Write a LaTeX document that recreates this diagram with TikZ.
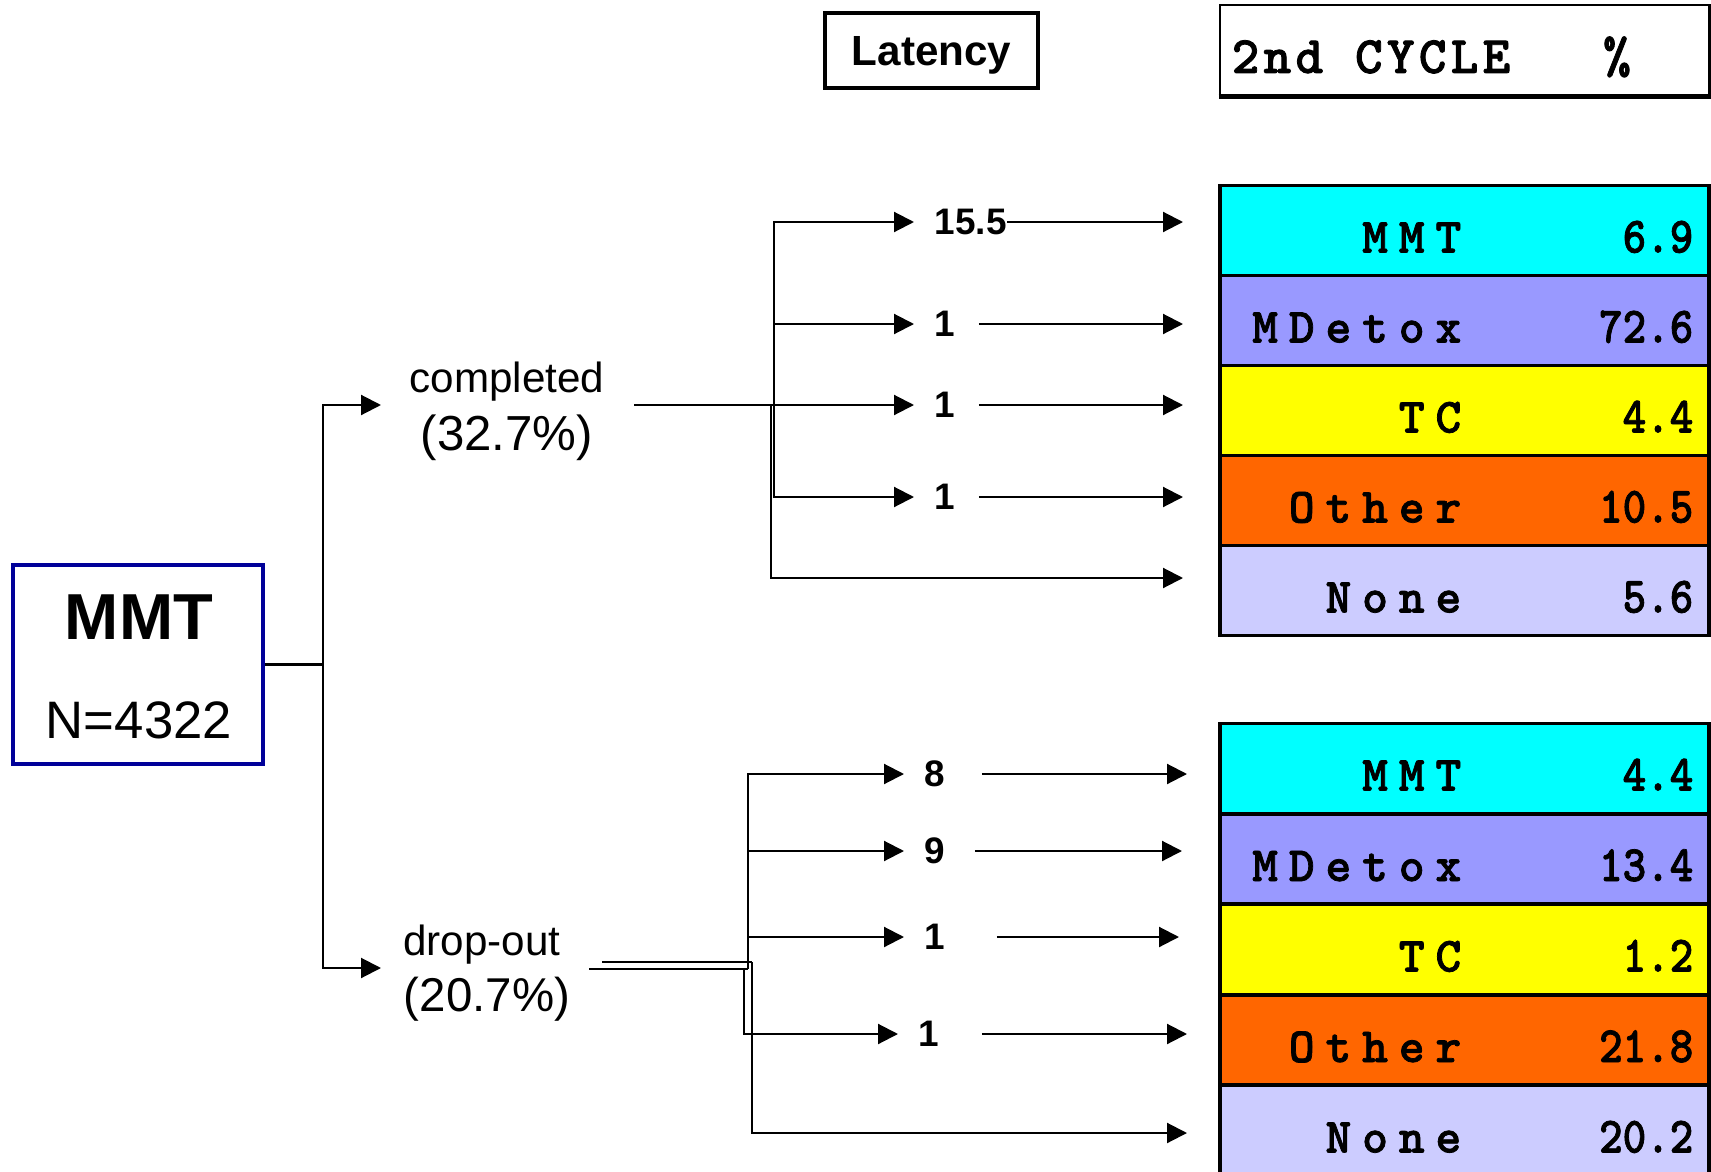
\documentclass[tikz,border=0pt]{standalone}
\usepackage{fontspec}
\setmainfont{Liberation Sans}
\newfontfamily\cellfont{lmmonolt10-bold}[Extension=.otf, LetterSpace=22, FakeBold=1.5]
\newfontfamily\numfont{lmmonolt10-bold}[Extension=.otf, FakeStretch=0.88, FakeBold=1.5]
\newfontfamily\headfont{lmmonolt10-bold}[Extension=.otf, LetterSpace=8, FakeBold=1.5]
\usetikzlibrary{arrows.meta}
\definecolor{cellcyan}{RGB}{0,255,255}
\definecolor{cellviolet}{RGB}{153,153,255}
\definecolor{cellyellow}{RGB}{255,255,0}
\definecolor{cellorange}{RGB}{255,102,0}
\definecolor{celllavender}{RGB}{204,204,255}
\definecolor{mmtblue}{RGB}{0,0,153}
\tikzset{
  link/.style={line width=0.6pt},
  arr/.style={link, -{Triangle[length=2mm,width=2mm]}},
  lat/.style={anchor=west, inner xsep=0.2cm, font=\fontsize{10.5}{12}\selectfont\bfseries},
  cell/.style={draw, line width=1pt, minimum width=4.89cm, minimum height=0.9cm, inner sep=0pt},
  celltext/.style={anchor=base east, inner sep=0pt, font=\fontsize{14}{16}\cellfont},
  cellnum/.style={anchor=base east, inner sep=0pt, font=\fontsize{14.5}{16}\numfont},
}
\begin{document}
\begin{tikzpicture}
                \useasboundingbox (0,0) rectangle (17.11,-11.72);
                
                % Heading boxes
                \node [draw, line width=1pt, minimum width=2.13cm, minimum height=0.75cm, text depth=0pt, font=\fontsize{12}{14}\selectfont\bfseries] (latency) at (9.315,-0.505) {Latency};%
                \node [draw, line width=0.8pt, minimum width=4.89cm, minimum height=0.90cm] (cycle) at (14.645,-0.50) {};%
                \draw [line width=1.6pt] (cycle.south west) -- (cycle.south east) -- (cycle.north east);%
                \node [anchor=base west, inner sep=0pt, font=\fontsize{15}{17}\headfont] (cyclename) at (12.31,-0.73) {2nd CYCLE};%
                \node [anchor=base, inner sep=0pt, font=\fontsize{15}{17}\headfont] (cyclepct) at (16.17,-0.73) {\%};%
                
                % Cells for completed
                \node [cell, fill=cellcyan] (r1) at (14.645,-2.305) {};%
                \node [cell, fill=cellviolet] (r2) at (14.645,-3.205) {};%
                \node [cell, fill=cellyellow] (r3) at (14.645,-4.105) {};%
                \node [cell, fill=cellorange] (r4) at (14.645,-5.005) {};%
                \node [cell, fill=celllavender] (r5) at (14.645,-5.905) {};%
                \node [celltext] (r1name) at (14.62,-2.525) {MMT};%
                \node [celltext] (r2name) at (14.62,-3.425) {MDetox};%
                \node [celltext] (r3name) at (14.62,-4.325) {TC};%
                \node [celltext] (r4name) at (14.62,-5.225) {Other};%
                \node [celltext] (r5name) at (14.62,-6.125) {None};%
                \node [cellnum] (r1val) at (16.94,-2.525) {6.9};%
                \node [cellnum] (r2val) at (16.94,-3.425) {72.6};%
                \node [cellnum] (r3val) at (16.94,-4.325) {4.4};%
                \node [cellnum] (r4val) at (16.94,-5.225) {10.5};%
                \node [cellnum] (r5val) at (16.94,-6.125) {5.6};%
                
                % Cells for drop-out
                \node [cell, fill=cellcyan] (s1) at (14.645,-7.685) {};%
                \node [cell, fill=cellviolet] (s2) at (14.645,-8.59) {};%
                \node [cell, fill=cellyellow] (s3) at (14.645,-9.495) {};%
                \node [cell, fill=cellorange] (s4) at (14.645,-10.40) {};%
                \node [cell, fill=celllavender] (s5) at (14.645,-11.305) {};%
                \node [celltext] (s1name) at (14.62,-7.905) {MMT};%
                \node [celltext] (s2name) at (14.62,-8.81) {MDetox};%
                \node [celltext] (s3name) at (14.62,-9.715) {TC};%
                \node [celltext] (s4name) at (14.62,-10.62) {Other};%
                \node [celltext] (s5name) at (14.62,-11.525) {None};%
                \node [cellnum] (s1val) at (16.94,-7.905) {4.4};%
                \node [cellnum] (s2val) at (16.94,-8.81) {13.4};%
                \node [cellnum] (s3val) at (16.94,-9.715) {1.2};%
                \node [cellnum] (s4val) at (16.94,-10.62) {21.8};%
                \node [cellnum] (s5val) at (16.94,-11.525) {20.2};%
                
                % MMT box and first split
                \node [draw=mmtblue, line width=1.4pt, minimum width=2.50cm, minimum height=1.99cm] (mmt) at (1.38,-6.645) {};%
                \node [font=\fontsize{18.5}{22}\selectfont\bfseries] (mmttitle) at (1.39,-6.17) {MMT};%
                \node [font=\fontsize{15}{18}\selectfont] (mmtsize) at (1.39,-7.20) {N=4322};%
                \coordinate (split) at (3.23,-6.645);%
                \coordinate (ctip) at (3.81,-4.05);%
                \coordinate (dtip) at (3.81,-9.68);%
                \draw [link] (mmt.east) -- (split);%
                \draw [arr] (split) |- (ctip);%
                \draw [arr] (split) |- (dtip);%
                
                % Completed and drop-out labels
                \node [anchor=base, font=\fontsize{12}{14}\selectfont] (compl) at (5.07,-3.92) {completed};%
                \node [anchor=base, font=\fontsize{14}{16}\selectfont] (complpct) at (5.07,-4.50) {(32.7\%)};%
                \node [anchor=base, font=\fontsize{12}{14}\selectfont] (drop) at (4.82,-9.55) {drop-out};%
                \node [anchor=base, font=\fontsize{13.5}{16}\selectfont] (droppct) at (4.87,-10.11) {(20.7\%)};%
                
                % Latency branches of completed
                \coordinate (cout) at (6.34,-4.05);%
                \coordinate (cjoin) at (7.74,-4.05);%
                \coordinate (cjoin2) at (7.71,-4.05);%
                \draw [link] (cout) -- (cjoin);%
                \node [lat] (c1) at (9.14,-2.22) {15.5};%
                \node [lat] (c2) at (9.14,-3.24) {1};%
                \node [lat] (c3) at (9.14,-4.05) {1};%
                \node [lat] (c4) at (9.14,-4.97) {1};%
                \draw [arr] (cjoin) |- (c1.west);%
                \draw [arr] (cjoin) |- (c2.west);%
                \draw [arr] (cjoin) |- (c3.west);%
                \draw [arr] (cjoin) |- (c4.west);%
                \coordinate (ct1) at (11.83,-2.22);%
                \coordinate (ct2) at (11.83,-3.24);%
                \coordinate (ct3) at (11.83,-4.05);%
                \coordinate (ct4) at (11.83,-4.97);%
                \coordinate (ct5) at (11.83,-5.78);%
                \draw [arr, shorten <=-0.2cm] (c1.east) -- (ct1);%
                \draw [arr, shorten <=0.03cm] (c2.east) -- (ct2);%
                \draw [arr, shorten <=0.03cm] (c3.east) -- (ct3);%
                \draw [arr, shorten <=0.03cm] (c4.east) -- (ct4);%
                \draw [arr] (cjoin2) |- (ct5);%
                
                % Latency branches of drop-out
                \coordinate (dout) at (5.89,-9.69);%
                \coordinate (djoin) at (7.48,-9.69);%
                \coordinate (dout2) at (6.02,-9.62);%
                \coordinate (djoin2) at (7.52,-9.62);%
                \coordinate (djoin3) at (7.44,-9.69);%
                \draw [link] (dout) -- (djoin);%
                \draw [link] (dout2) -- (djoin2);%
                \node [lat] (d1) at (9.04,-7.74) {8};%
                \node [lat] (d2) at (9.04,-8.51) {9};%
                \node [lat] (d3) at (9.04,-9.37) {1};%
                \node [lat] (d4) at (8.98,-10.34) {1};%
                \draw [arr] (djoin) |- (d1.west);%
                \draw [arr] (djoin) |- (d2.west);%
                \draw [arr] (djoin) |- (d3.west);%
                \draw [arr] (djoin3) |- (d4.west);%
                \coordinate (dt1) at (11.87,-7.74);%
                \coordinate (dt2) at (11.82,-8.51);%
                \coordinate (dt3) at (11.79,-9.37);%
                \coordinate (dt4) at (11.87,-10.34);%
                \coordinate (dt5) at (11.87,-11.33);%
                \draw [arr, shorten <=0.16cm] (d1.east) -- (dt1);%
                \draw [arr, shorten <=0.09cm] (d2.east) -- (dt2);%
                \draw [arr, shorten <=0.31cm] (d3.east) -- (dt3);%
                \draw [arr, shorten <=0.22cm] (d4.east) -- (dt4);%
                \draw [arr] (djoin2) |- (dt5);%
\end{tikzpicture}
\end{document}
